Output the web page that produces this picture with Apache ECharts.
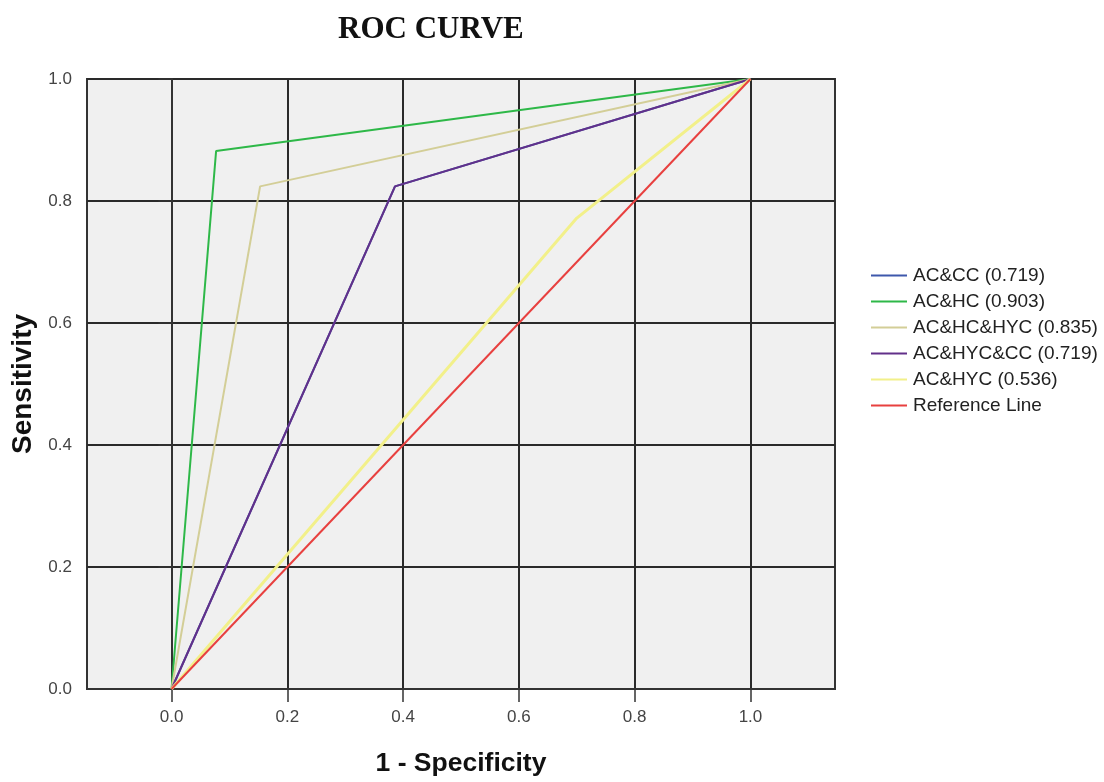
<!DOCTYPE html>
<html>
<head>
<meta charset="utf-8">
<style>html,body{margin:0;padding:0;background:#fff;}#c{width:1104px;height:782px;}</style>
<script src="https://cdn.jsdelivr.net/npm/echarts@6/dist/echarts.min.js"></script>
</head>
<body>
<div id="c"></div>
<script>
// ---- data ----
const seriesNames = ['AC&CC (0.719)', 'AC&HC (0.903)', 'AC&HC&HYC (0.835)', 'AC&HYC&CC (0.719)', 'AC&HYC (0.536)', 'Reference Line'];
const fprACCC = [0, 0.386, 1];
const tprACCC = [0, 0.824, 1];
const fprACHC = [0, 0.077, 1];
const tprACHC = [0, 0.882, 1];
const fprACHCHYC = [0, 0.153, 1];
const tprACHCHYC = [0, 0.824, 1];
const fprACHYCCC = [0, 0.386, 1];
const tprACHYCCC = [0, 0.824, 1];
const fprACHYC = [0, 0.70, 1];
const tprACHYC = [0, 0.772, 1];
const fprRef = [0, 1];
const tprRef = [0, 1];
const xTicks = [0, 0.2, 0.4, 0.6, 0.8, 1.0];
const yTicks = [0, 0.2, 0.4, 0.6, 0.8, 1.0];

const colors = ['#3E58AC', '#2EB848', '#D3CE97', '#62308A', '#F2F08A', '#E8403F'];
const widths = [2, 2, 2, 2, 3, 2];
const fprs = [fprACCC, fprACHC, fprACHCHYC, fprACHYCCC, fprACHYC, fprRef];
const tprs = [tprACCC, tprACHC, tprACHCHYC, tprACHYCCC, tprACHYC, tprRef];

const pair = (xs, ys) => xs.map((x, i) => [x, ys[i]]);

const chart = echarts.init(document.getElementById('c'), null, {renderer: 'canvas'});
const series = seriesNames.map((n, i) => ({
  name: n,
  type: 'line',
  data: pair(fprs[i], tprs[i]),
  symbol: 'none',
  showSymbol: false,
  lineStyle: {color: colors[i], width: widths[i]},
  itemStyle: {color: colors[i]},
  emphasis: {disabled: true},
  z: 3 + i,
  animation: false
}));

chart.setOption({
  backgroundColor: '#ffffff',
  animation: false,
  title: {
    text: 'ROC CURVE',
    left: 338,
    top: 14,
    padding: 0,
    textStyle: {fontFamily: 'Liberation Serif', fontWeight: 'bold', fontSize: 31, color: '#111'}
  },
  legend: {
    orient: 'vertical',
    left: 871,
    top: 266,
    padding: 0,
    itemWidth: 36,
    itemHeight: 14,
    itemGap: 7,
    icon: 'path://M0,6 L36,6 L36,8 L0,8 Z',
    data: seriesNames,
    textStyle: {fontFamily: 'Liberation Sans', fontSize: 19, color: '#222', padding: [0, 0, 0, 1]},
    selectedMode: false
  },
  grid: {
    left: 87, right: 269, top: 79, bottom: 90,
    show: true,
    backgroundColor: '#F0F0F0',
    borderColor: '#333',
    borderWidth: 2
  },
  xAxis: {
    type: 'value',
    min: -0.146,
    max: 1.146,
    splitNumber: 6,
    name: '1 - Specificity',
    nameLocation: 'middle',
    nameGap: 61,
    nameTextStyle: {fontFamily: 'Liberation Sans', fontWeight: 'bold', fontSize: 26.5, color: '#111'},
    axisLine: {show: true, lineStyle: {color: '#333', width: 2}},
    axisTick: {show: true, length: 13, customValues: xTicks, lineStyle: {color: '#333', width: 1.5}},
    axisLabel: {customValues: xTicks, margin: 20, fontFamily: 'Liberation Sans', fontSize: 17, color: '#444', formatter: v => v.toFixed(1)},
    splitLine: {show: true, customValues: xTicks, lineStyle: {color: '#2a2a2a', width: 2}}
  },
  yAxis: {
    type: 'value',
    min: 0,
    max: 1,
    interval: 0.2,
    name: 'Sensitivity',
    nameLocation: 'middle',
    nameGap: 50,
    nameTextStyle: {fontFamily: 'Liberation Sans', fontWeight: 'bold', fontSize: 28, color: '#111'},
    axisLine: {show: true, lineStyle: {color: '#333', width: 2}},
    axisTick: {show: true, length: 13, customValues: yTicks, lineStyle: {color: '#333', width: 1.5}},
    axisLabel: {customValues: yTicks, margin: 15, fontFamily: 'Liberation Sans', fontSize: 17, color: '#444', formatter: v => v.toFixed(1)},
    splitLine: {show: true, lineStyle: {color: '#2a2a2a', width: 2}}
  },
  series: series
});
</script>
</body>
</html>
